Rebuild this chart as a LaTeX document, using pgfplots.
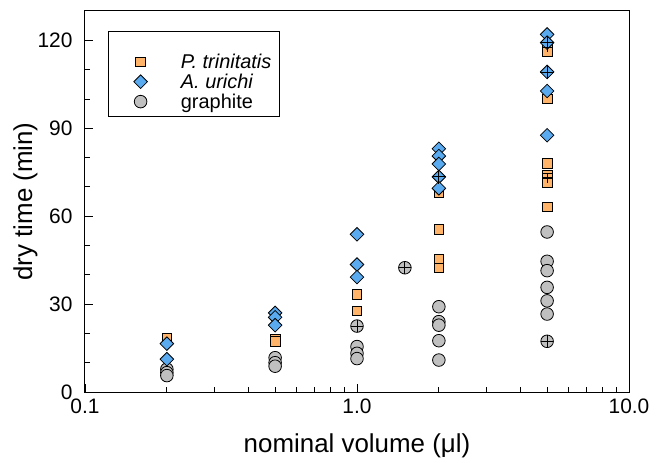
\documentclass[border=0pt]{standalone}
\usepackage{fontspec}
\setmainfont{Liberation Sans}
\usepackage{pgfplots}
\pgfplotsset{compat=1.18}
\definecolor{porange}{HTML}{FFB469}
\definecolor{pblue}{HTML}{5AAAF0}
\definecolor{pgrey}{HTML}{C0C0C0}
\begin{document}
\begin{tikzpicture}
\path[use as bounding box] (-85bp,-71bp) rectangle (571bp,392bp);
\begin{axis}[
  scale only axis, width=544bp, height=381bp,
  xmode=log, xmin=0.1, xmax=10, ymin=0, ymax=130,
  xtick={0.1,1,10}, xticklabels={0.1,1.0,10.0},
  minor xtick={0.2,0.3,0.4,0.5,0.6,0.7,0.8,0.9,2,3,4,5,6,7,8,9},
  ytick={0,30,60,90,120}, minor ytick={10,20,40,50,70,80,100,110},
  tick align=inside, xtick pos=left, ytick pos=left,
  major tick length=8bp, minor tick length=5bp,
  tick style={black, line width=0.8bp},
  axis line style={line width=1bp},
  /pgf/number format/assume math mode=true,
  ticklabel style={font=\fontsize{21}{25}\selectfont},
  xticklabel style={yshift=-3bp},
  yticklabel style={xshift=-9bp},
  label style={font=\fontsize{26}{30}\selectfont},
  xlabel={nominal volume (μl)}, ylabel={dry time (min)},
  xlabel style={at={(axis description cs:0.5,-0.1575)}, anchor=base},
  ylabel style={at={(axis description cs:-0.0974,0.5)}, anchor=base},
  legend cell align=left,
  legend image code/.code={\path (0bp,0bp) (52bp,0bp); \draw[#1] plot coordinates {(26bp,0bp)};},
  legend style={at={(axis description cs:0.0423,0.9475)}, anchor=north west,
    draw=black, line width=0.6bp, inner xsep=6bp, inner ysep=5bp,
    column sep=12bp, row sep=0bp,
    font=\fontsize{20}{24}\selectfont, nodes={inner sep=2bp}},
]
\addlegendimage{empty legend}
\addlegendentry{\rule{0pt}{10bp}}
\addlegendimage{only marks, mark=square*, mark size=4.8bp, mark options={fill=porange, draw=black, line width=0.8bp}}
\addlegendentry{\textit{P. trinitatis}}
\addlegendimage{only marks, mark=square*, mark size=4.8bp, mark options={rotate=45, fill=pblue, draw=black, line width=0.8bp}}
\addlegendentry{\textit{A. urichi}}
\addlegendimage{only marks, mark=*, mark size=6.3bp, mark options={fill=pgrey, draw=black, line width=0.8bp}}
\addlegendentry{graphite}

% graphite
\addplot[only marks, mark=*, mark size=6.3bp, mark options={fill=pgrey, draw=black, line width=0.8bp}, forget plot] coordinates {
 (0.2,7.8) (0.2,6.6) (0.2,5.6)
 (0.5,11.7) (0.5,10.0) (0.5,8.8)
 (1,22.5) (1,15.5) (1,13.2) (1,11.4)
 (1.5,42.4)
 (2,29.1) (2,24.0) (2,22.8) (2,17.5) (2,10.9)
 (5,54.6) (5,44.6) (5,41.4) (5,35.7) (5,31.1) (5,26.6) (5,17.3)
};
% P. trinitatis
\addplot[only marks, mark=square*, mark size=4.8bp, mark options={fill=porange, draw=black, line width=0.8bp}, forget plot] coordinates {
 (0.2,18.5)
 (0.5,18.1) (0.5,17.2)
 (1,33.2) (1,27.7)
 (2,68.2) (2,55.5) (2,45.3) (2,42.3)
 (5,117.5) (5,116.0) (5,100.0) (5,78.0) (5,74.0) (5,72.8) (5,71.5) (5,63.2)
};
% A. urichi
\addplot[only marks, mark=square*, mark size=4.8bp, mark options={rotate=45, fill=pblue, draw=black, line width=0.8bp}, forget plot] coordinates {
 (0.2,16.5) (0.2,11.2)
 (0.5,27.0) (0.5,25.5) (0.5,22.8)
 (1,53.8) (1,43.5) (1,39.2)
 (2,83.0) (2,80.5) (2,77.8) (2,73.4) (2,69.5)
 (5,122.0) (5,119.2) (5,109.2) (5,102.7) (5,87.6)
};
% crosshairs
\addplot[only marks, mark=+, mark size=6.3bp, mark options={draw=black, line width=0.8bp}, forget plot] coordinates {
 (1,22.5) (1.5,42.4) (5,17.3)
};
\addplot[only marks, mark=+, mark size=4.8bp, mark options={draw=black, line width=0.8bp}, forget plot] coordinates {
 (5,117.5) (5,72.8)
};
\addplot[only marks, mark=+, mark size=6.8bp, mark options={draw=black, line width=0.8bp}, forget plot] coordinates {
 (2,73.4) (5,119.2) (5,109.2)
};
\end{axis}
\end{tikzpicture}
\end{document}
